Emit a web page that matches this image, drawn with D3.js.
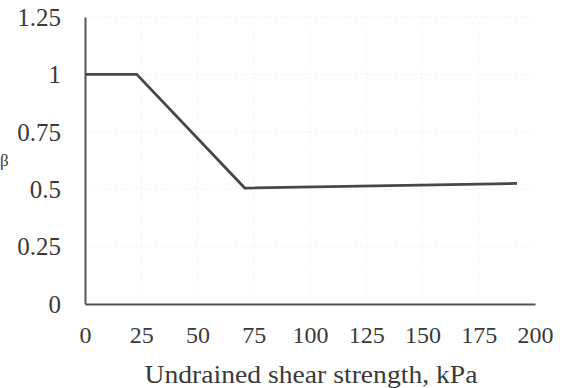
<!DOCTYPE html>
<html>
<head>
<meta charset="utf-8">
<script src="https://cdn.jsdelivr.net/npm/d3@7"></script>
<style>
  html, body { margin: 0; padding: 0; background: #fff; }
  svg { display: block; }
  text { font-family: "Liberation Serif", "Times New Roman", serif; fill: #3a3a3a; }
</style>
</head>
<body>
<svg id="chart" width="569" height="388"></svg>
<script>
// Reduction factor vs undrained shear strength
const shearStrength = [0, 23, 71, 192];        // kPa
const factor        = [1.0, 1.0, 0.505, 0.525];
const xTicks = [0, 25, 50, 75, 100, 125, 150, 175, 200];
const yTicks = [0, 0.25, 0.5, 0.75, 1, 1.25];
const xTitle = "Undrained shear strength, kPa";
const yTitle = "β";

const svg = d3.select("#chart");
const x = d3.scaleLinear().domain([0, 200]).range([85, 535]);
const y = d3.scaleLinear().domain([0, 1.25]).range([304, 17]);

// faint background grid
const grid = svg.append("g").attr("stroke", "#f1f1f1").attr("stroke-width", 1)
  .attr("stroke-dasharray", "2,3");
grid.selectAll("line.h").data(yTicks.filter(d => d > 0)).join("line")
  .attr("x1", x(0)).attr("x2", x(200))
  .attr("y1", d => y(d)).attr("y2", d => y(d));
grid.selectAll("line.v").data(xTicks.filter(d => d > 0 && d < 200)).join("line")
  .attr("y1", y(0)).attr("y2", y(1.25))
  .attr("x1", d => x(d)).attr("x2", d => x(d));

// axes
const xAxis = d3.axisBottom(x).tickValues(xTicks).tickSize(0).tickPadding(0)
  .tickFormat(d3.format("d"));
const gx = svg.append("g").attr("transform", `translate(0,${y(0)})`).call(xAxis);
gx.select(".domain").attr("stroke", "#555").attr("stroke-width", 2);
gx.selectAll("text").attr("font-size", 24).attr("dy", 0).attr("y", 39)
  .attr("fill", "#3a3a3a").attr("font-family", "Liberation Serif");

const yAxis = d3.axisLeft(y).tickValues(yTicks).tickSize(0).tickPadding(0)
  .tickFormat(d => d3.format("~g")(d));
const gy = svg.append("g").attr("transform", `translate(${x(0)},0)`).call(yAxis);
gy.select(".domain").attr("stroke", "#555").attr("stroke-width", 2);
gy.selectAll("text").attr("font-size", 25).attr("x", -24).attr("dy", "0.33em")
  .attr("fill", "#3a3a3a").attr("font-family", "Liberation Serif");

// axis titles
svg.append("text").attr("x", (x(0) + x(200)) / 2 + 1).attr("y", 383)
  .attr("text-anchor", "middle").attr("font-size", 26)
  .attr("textLength", 333).attr("lengthAdjust", "spacingAndGlyphs").text(xTitle);
svg.append("text").attr("x", 0).attr("y", 166)
  .attr("font-size", 17).attr("fill", "#888").text(yTitle);

// data line
const line = d3.line().x((d, i) => x(shearStrength[i])).y(d => y(d));
svg.append("path").datum(factor).attr("d", line)
  .attr("fill", "none").attr("stroke", "#474747").attr("stroke-width", 2.8)
  .attr("stroke-linejoin", "miter");
</script>
</body>
</html>
